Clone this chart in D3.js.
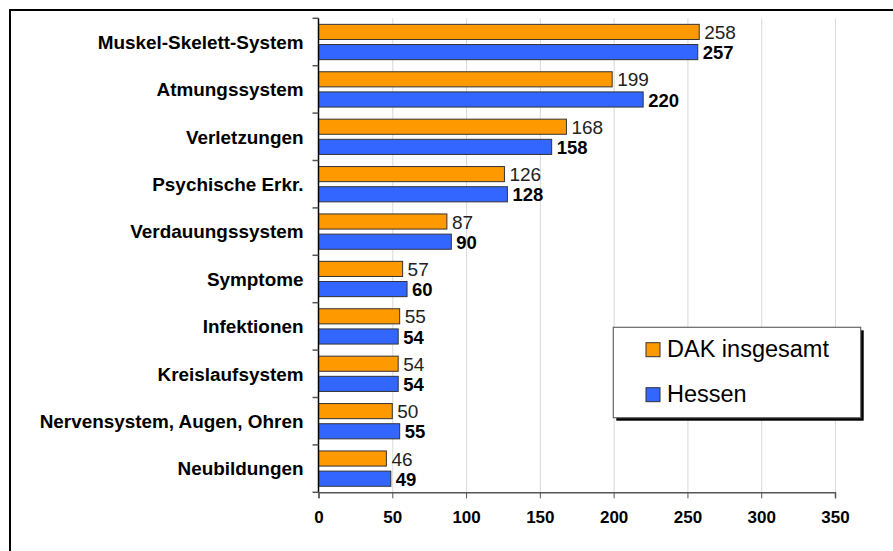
<!DOCTYPE html>
<html><head><meta charset="utf-8">
<script src="https://cdn.jsdelivr.net/npm/d3@7"></script>
<style>body{margin:0;background:#fff}svg{display:block}</style>
</head><body>
<svg id="c" width="893" height="551"></svg>
<script>
const categories = ["Muskel-Skelett-System","Atmungssystem","Verletzungen","Psychische Erkr.","Verdauungssystem","Symptome","Infektionen","Kreislaufsystem","Nervensystem, Augen, Ohren","Neubildungen"];
const seriesNames = ["DAK insgesamt","Hessen"];
const dakValues = [258,199,168,126,87,57,55,54,50,46];
const hessenValues = [257,220,158,128,90,60,54,54,55,49];
const xTicks = [0,50,100,150,200,250,300,350];
const colors = ["#FF9900","#3366FF"];

const svg = d3.select("#c");
const font = "Liberation Sans, Arial, Helvetica, sans-serif";

// frame (top and left edges visible)
svg.append("rect").attr("x",10).attr("y",10).attr("width",900).attr("height",560)
  .attr("fill","#fff").attr("stroke","#000").attr("stroke-width",2);

const x = d3.scaleLinear().domain([0,350]).range([318.5,835]);
const y0 = d3.scaleBand().domain(categories).range([18.3,492.3]).padding(0);
const y1 = d3.scaleBand().domain(seriesNames).range([0,y0.bandwidth()]).paddingInner(0.25).paddingOuter(0.3);

// grid
svg.append("g").selectAll("line").data(xTicks.filter(d=>d>0)).join("line")
  .attr("x1",d=>x(d)+0.5).attr("x2",d=>x(d)+0.5).attr("y1",18.3).attr("y2",492.3)
  .attr("stroke","#d9d9d9").attr("stroke-width",1);

// bars
const rows = categories.map((c,i)=>({c, vals:[dakValues[i],hessenValues[i]]}));
const g = svg.append("g");
rows.forEach(r=>{
  r.vals.forEach((v,j)=>{
    const yy = y0(r.c)+y1(seriesNames[j]);
    g.append("rect").attr("x",x(0)).attr("y",yy).attr("width",x(v)-x(0)).attr("height",y1.bandwidth())
      .attr("fill",colors[j]).attr("stroke","#333").attr("stroke-width",1);
    g.append("text").attr("x",x(v)+5).attr("y",yy+y1.bandwidth()-0.5)
      .attr("font-family",font).attr("font-size",j===0?19:18.5).attr("font-weight",j===0?"normal":"bold")
      .attr("fill",j===0?"#222":"#000").text(v);
  });
});

// x axis
const xAxis = svg.append("g").attr("transform","translate(0,492.3)")
  .call(d3.axisBottom(x).tickValues(xTicks).tickSize(6).tickPadding(13).tickFormat(d3.format("d")));
xAxis.select(".domain").attr("stroke","#555").attr("stroke-width",1.5);
xAxis.selectAll(".tick line").attr("stroke","#555");
xAxis.selectAll("text").attr("font-family",font).attr("font-size",17).attr("font-weight","bold").attr("fill","#000");

// y axis (ticks at category boundaries)
const ya = svg.append("g");
ya.append("line").attr("x1",x(0)).attr("x2",x(0)).attr("y1",18.3).attr("y2",492.3).attr("stroke","#000").attr("stroke-width",1.5);
const bounds = categories.map(c=>y0(c)).concat([y0.range()[1]]);
ya.selectAll("line.t").data(bounds).join("line").attr("class","t")
  .attr("x1",x(0)-6).attr("x2",x(0)).attr("y1",d=>d).attr("y2",d=>d).attr("stroke","#555").attr("stroke-width",1.5);
ya.selectAll("text").data(categories).join("text")
  .attr("x",303.5).attr("y",d=>y0(d)+y0.bandwidth()/2+6.8)
  .attr("text-anchor","end").attr("font-family",font).attr("font-size",18.9).attr("font-weight","bold").attr("fill","#000")
  .text(d=>d);

// legend
const lg = svg.append("g");
lg.append("rect").attr("x",616.3).attr("y",330.3).attr("width",247.4).attr("height",90.4).attr("fill","#000");
lg.append("rect").attr("x",613.3).attr("y",327.3).attr("width",247.4).attr("height",90.4).attr("fill","#fff").attr("stroke","#666").attr("stroke-width",1.2);
seriesNames.forEach((s,j)=>{
  const ty = 342.7 + j*45;
  lg.append("rect").attr("x",646).attr("y",ty).attr("width",14).attr("height",14).attr("fill",colors[j]).attr("stroke","#333").attr("stroke-width",1);
  lg.append("text").attr("x",667).attr("y",ty+14.5).attr("font-family",font).attr("font-size",23.5).attr("fill","#000").text(s);
});
</script>
</body></html>
